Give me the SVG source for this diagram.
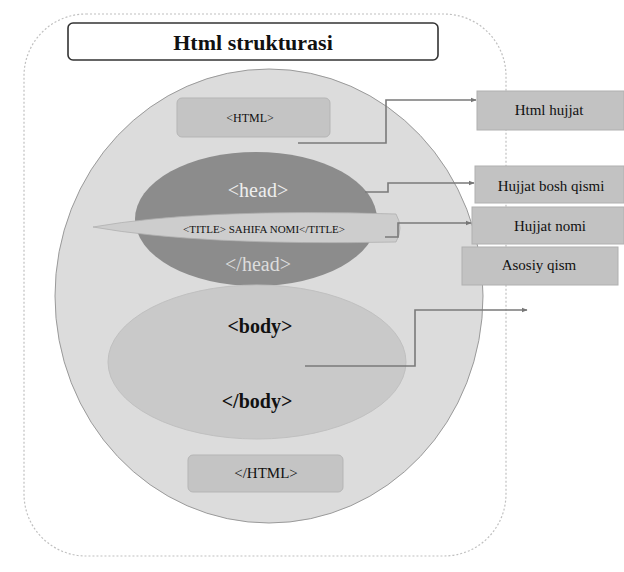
<svg xmlns="http://www.w3.org/2000/svg" width="624" height="572" viewBox="0 0 624 572">
<defs>
<marker id="arr" viewBox="0 0 10 10" refX="9" refY="5" markerWidth="6" markerHeight="6" orient="auto" markerUnits="userSpaceOnUse">
<path d="M0,1 L10,5 L0,9 z" fill="#777"/>
</marker>
<style>
.t{font-family:"Liberation Serif","Times New Roman",serif;text-anchor:middle;fill:#111}
.conn{fill:none;stroke:#7a7a7a;stroke-width:1.6}
.lbl{fill:#c2c2c2;stroke:#b0b0b0;stroke-width:1}
</style>
</defs>
<rect width="624" height="572" fill="#ffffff"/>
<g id="frame">
<rect x="24" y="14" width="482" height="542" rx="62" fill="none" stroke="#c0c0c0" stroke-width="1.2" stroke-dasharray="2 2"/>
</g>
<g id="title">
<rect x="68" y="23" width="370" height="37" rx="5" fill="#ffffff" stroke="#333" stroke-width="1.6"/>
<text class="t" x="253" y="50" font-size="22" font-weight="bold">Html strukturasi</text>
</g>
<g id="html-ellipse">
<ellipse cx="269" cy="296" rx="214" ry="227" fill="#dcdcdc" stroke="#9a9a9a" stroke-width="1"/>
</g>
<g id="html-open">
<rect x="177" y="98" width="153" height="39" rx="5" fill="#c4c4c4" stroke="#b5b5b5"/>
<text class="t" x="250" y="122" font-size="12">&lt;HTML&gt;</text>
</g>
<g id="head">
<ellipse cx="256" cy="219" rx="121" ry="67" fill="#8c8c8c"/>
<text class="t" x="258" y="197" font-size="20" style="fill:#eeeeee">&lt;head&gt;</text>
<text class="t" x="258" y="271" font-size="20" style="fill:#dddddd">&lt;/head&gt;</text>
</g>
<g id="title-tag">
<path d="M93,227 Q200,208 396,214 Q404,228 396,242 Q200,246 93,227 Z" fill="#cdcdcd" stroke="#b0b0b0" stroke-width="0.8"/>
<text class="t" x="264" y="233" font-size="11">&lt;TITLE&gt;  SAHIFA  NOMI&lt;/TITLE&gt;</text>
</g>
<g id="body">
<ellipse cx="257" cy="362" rx="149" ry="77" fill="#c9c9c9" stroke="#c0c0c0"/>
<text class="t" x="260" y="333" font-size="20" font-weight="bold">&lt;body&gt;</text>
<text class="t" x="257" y="408" font-size="20" font-weight="bold">&lt;/body&gt;</text>
</g>
<g id="html-close">
<rect x="188" y="455" width="155" height="37" rx="5" fill="#c4c4c4" stroke="#b5b5b5"/>
<text class="t" x="266" y="478" font-size="15">&lt;/HTML&gt;</text>
</g>
<g id="lbl-html">
<rect class="lbl" x="477" y="91" width="147" height="39"/>
<text class="t" x="549" y="115" font-size="15">Html hujjat</text>
</g>
<g id="lbl-head">
<rect class="lbl" x="475" y="166" width="149" height="37"/>
<text class="t" x="551" y="191" font-size="15">Hujjat bosh qismi</text>
</g>
<g id="lbl-title">
<rect class="lbl" x="472" y="207" width="152" height="37"/>
<text class="t" x="550" y="231" font-size="15">Hujjat nomi</text>
</g>
<g id="lbl-body">
<rect class="lbl" x="462" y="247" width="156" height="38"/>
<text class="t" x="539" y="270" font-size="15">Asosiy qism</text>
</g>
<g id="connectors">
<polyline class="conn" points="298,143 386,143 386,100 476,100" marker-end="url(#arr)"/>
<polyline class="conn" points="365,192 388,192 388,183 474,183" marker-end="url(#arr)"/>
<polyline class="conn" points="385,237 398,237 398,223 471,223" marker-end="url(#arr)"/>
<polyline class="conn" points="305,366 415,366 415,310 527,310" marker-end="url(#arr)"/>
</g>
</svg>
